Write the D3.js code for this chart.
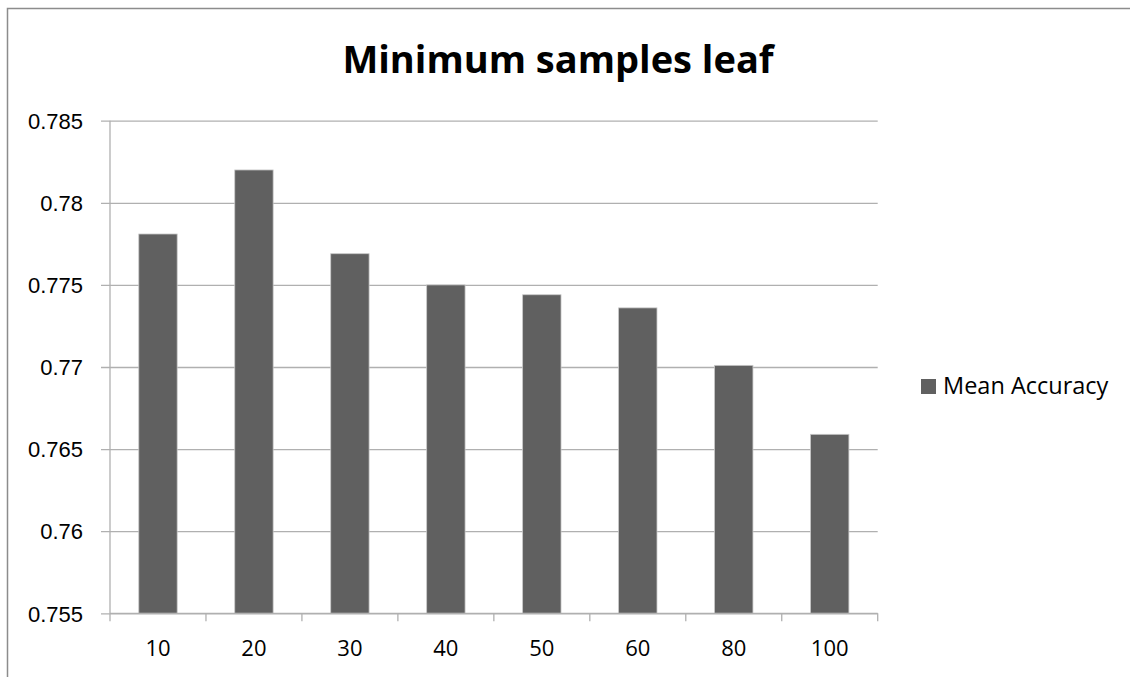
<!DOCTYPE html>
<html>
<head>
<meta charset="utf-8">
<script src="https://cdn.jsdelivr.net/npm/d3@7"></script>
<style>
  body { margin: 0; background: #fff; }
  svg { display: block; font-family: "Open Sans", "Liberation Sans", sans-serif; }
</style>
</head>
<body>
<div id="chart"></div>
<script>
// data
const categories = ["10", "20", "30", "40", "50", "60", "80", "100"];
const meanAccuracy = [0.7781, 0.7820, 0.7769, 0.7750, 0.7744, 0.7736, 0.7701, 0.7659];
const yTicks = [0.755, 0.76, 0.765, 0.77, 0.775, 0.78, 0.785];
const seriesName = "Mean Accuracy";
const chartTitle = "Minimum samples leaf";

const W = 1130, H = 677;
const plot = {left: 110, right: 877.7, top: 120.7, bottom: 613.3};

const svg = d3.select("#chart").append("svg")
    .attr("width", W).attr("height", H);

// chart area border (cropped at right / bottom)
svg.append("path")
    .attr("d", `M7.5,${H} V8.5 H${W}`)
    .attr("fill", "none").attr("stroke", "#8c8c8c").attr("stroke-width", 1.5);

const x = d3.scaleBand().domain(categories)
    .range([plot.left, plot.right]).paddingInner(0.6).paddingOuter(0.3);
const y = d3.scaleLinear().domain([0.755, 0.785]).range([plot.bottom, plot.top]);

// gridlines + y ticks
const yAxis = d3.axisLeft(y).tickValues(yTicks)
    .tickSize(-(plot.right - plot.left)).tickPadding(0)
    .tickFormat(d => String(+d.toFixed(3)));
const gy = svg.append("g").attr("transform", `translate(${plot.left},0)`).call(yAxis);
gy.select(".domain").remove();
gy.selectAll(".tick line")
    .attr("x1", -9).attr("stroke", "#b0b0b0").attr("stroke-width", 1.3);
gy.selectAll(".tick text")
    .attr("x", -27).attr("dy", "0.35em")
    .attr("fill", "#000").style("font-size", "22px");

// y axis line
svg.append("line")
    .attr("x1", plot.left).attr("x2", plot.left)
    .attr("y1", plot.top).attr("y2", plot.bottom)
    .attr("stroke", "#b0b0b0").attr("stroke-width", 1.3);

// bars
svg.append("g").selectAll("rect")
    .data(meanAccuracy)
    .join("rect")
    .attr("x", (d, i) => x(categories[i]))
    .attr("width", x.bandwidth())
    .attr("y", d => y(d))
    .attr("height", d => y(0.755) - y(d))
    .attr("fill", "#606060")
    .attr("stroke", "#c8c8c8").attr("stroke-width", 0.8);

// x axis with boundary ticks
const step = (plot.right - plot.left) / categories.length;
const gx = svg.append("g");
gx.append("line")
    .attr("x1", plot.left).attr("x2", plot.right)
    .attr("y1", plot.bottom).attr("y2", plot.bottom)
    .attr("stroke", "#b0b0b0").attr("stroke-width", 1.3);
gx.selectAll(".bt")
    .data(d3.range(categories.length + 1))
    .join("line")
    .attr("x1", i => plot.left + i * step).attr("x2", i => plot.left + i * step)
    .attr("y1", plot.bottom).attr("y2", plot.bottom + 8)
    .attr("stroke", "#b0b0b0").attr("stroke-width", 1.3);
gx.selectAll("text")
    .data(categories)
    .join("text")
    .attr("x", d => x(d) + x.bandwidth() / 2)
    .attr("y", 656)
    .attr("text-anchor", "middle")
    .style("font-size", "22px")
    .text(d => d);

// title
svg.append("text")
    .attr("x", 558).attr("y", 73)
    .attr("text-anchor", "middle")
    .style("font-size", "38px").style("font-weight", "bold")
    .text(chartTitle);

// legend
svg.append("rect")
    .attr("x", 921).attr("y", 379).attr("width", 15).attr("height", 15)
    .attr("fill", "#606060");
svg.append("text")
    .attr("x", 943).attr("y", 394)
    .style("font-size", "23.5px")
    .text(seriesName);
</script>
</body>
</html>
